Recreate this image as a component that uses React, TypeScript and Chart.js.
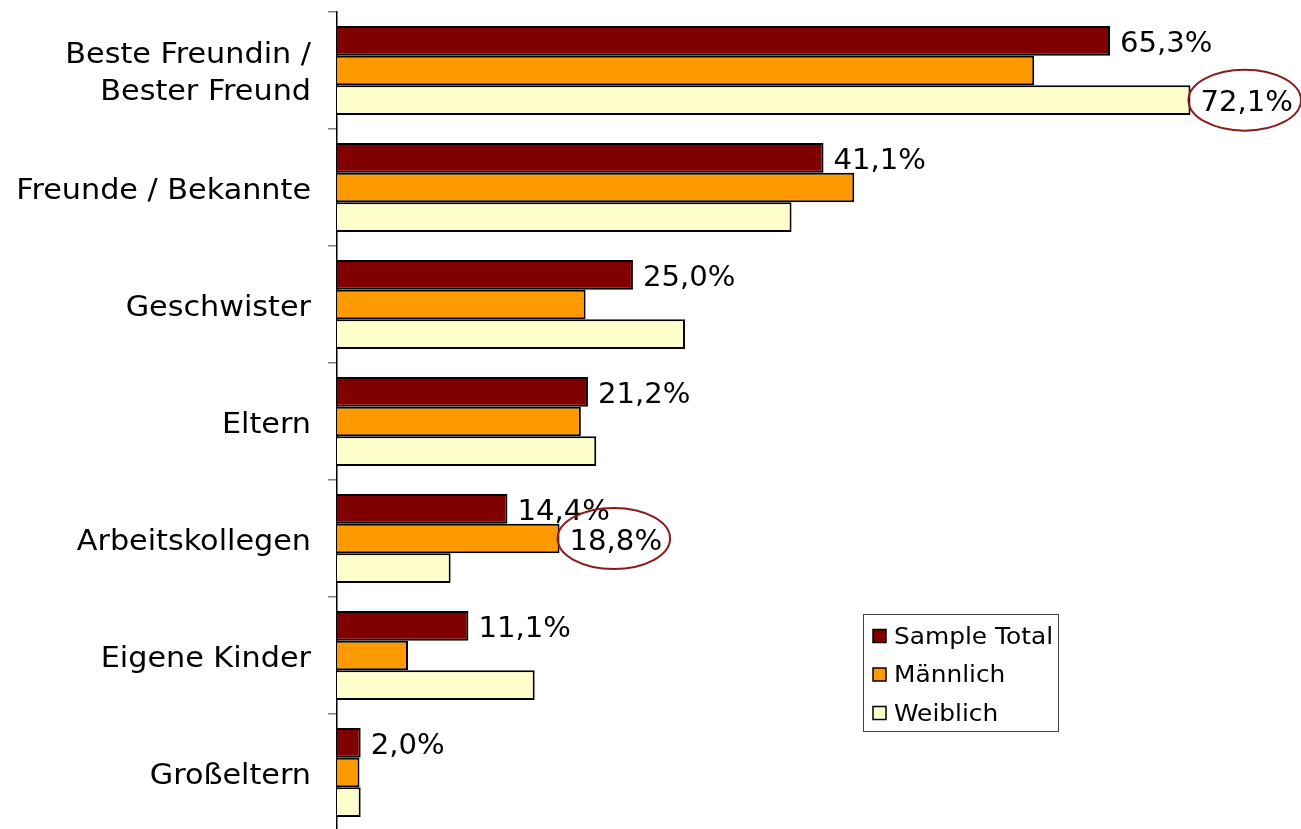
import React, { useEffect, useRef } from "react";
import { Chart, registerables } from "chart.js";

Chart.register(...registerables);

const categories: string[][] = [
  ["Beste Freundin /", "Bester Freund"],
  ["Freunde / Bekannte"],
  ["Geschwister"],
  ["Eltern"],
  ["Arbeitskollegen"],
  ["Eigene Kinder"],
  ["Großeltern"],
];
const seriesNames = ["Sample Total", "Männlich", "Weiblich"];
const sampleTotal = [65.3, 41.1, 25.0, 21.2, 14.4, 11.1, 2.0];
const maennlich = [58.9, 43.7, 21.0, 20.6, 18.8, 6.0, 1.9];
const weiblich = [72.1, 38.4, 29.4, 21.9, 9.6, 16.7, 2.0];
const seriesColors = ["#800000", "#FF9900", "#FFFFCC"];
// labels: [datasetIndex, categoryIndex, circled]
const labelledPoints: [number, number, boolean][] = [
  [0, 0, false],
  [0, 1, false],
  [0, 2, false],
  [0, 3, false],
  [0, 4, false],
  [0, 5, false],
  [0, 6, false],
  [2, 0, true],
  [1, 4, true],
];

const FONT = "'DejaVu Sans', Verdana, sans-serif";
const CAP = 0.729;

const fmt = (v: number) => v.toFixed(1).replace(".", ",") + "%";

// draws text whose cap-height centre sits at y
function wideText(ctx: any, txt: string, x: number, y: number, size: number, sx: number, align: "left" | "right") {
  ctx.save();
  ctx.font = `${size}px ${FONT}`;
  ctx.textBaseline = "alphabetic";
  ctx.textAlign = align;
  ctx.translate(x, y + (CAP * size) / 2);
  ctx.scale(sx, 1);
  ctx.fillText(txt, 0, 0);
  const w = ctx.measureText(txt).width * sx;
  ctx.restore();
  return w;
}

const categoryLabelPlugin = {
  id: "catLabels",
  afterDraw(chart: any) {
    const ctx = chart.ctx;
    const ys = chart.scales.y;
    ctx.save();
    ctx.fillStyle = "#000";
    (chart.data.labels as string[][]).forEach((lines, i) => {
      const cy = ys.getPixelForValue(i);
      const lh = 37;
      lines.forEach((ln, k) => {
        const y = cy + (k - (lines.length - 1) / 2) * lh + 1;
        wideText(ctx, ln, ys.right - 26, y, 28, 1.08, "right");
      });
    });
    ctx.restore();
  },
};

const labelPlugin = {
  id: "valueLabels",
  afterDatasetsDraw(chart: any) {
    const ctx = chart.ctx;
    ctx.save();
    ctx.fillStyle = "#000";
    for (const [di, ci, circled] of labelledPoints) {
      const meta = chart.getDatasetMeta(di);
      const el = meta.data[ci];
      const v = chart.data.datasets[di].data[ci];
      const txt = fmt(v);
      const x = el.x + 10;
      const y = el.y + 1;
      const w = wideText(ctx, txt, x, y, 28, 1.04, "left");
      if (circled) {
        ctx.save();
        ctx.strokeStyle = "#8B1A1A";
        ctx.lineWidth = 2;
        ctx.beginPath();
        ctx.ellipse(x + w / 2 - 2, y - 1, w / 2 + 10, 30.5, 0, 0, Math.PI * 2);
        ctx.stroke();
        ctx.restore();
      }
    }
    ctx.restore();
  },
};

const legendPlugin = {
  id: "boxLegend",
  afterDraw(chart: any) {
    const ctx = chart.ctx;
    ctx.save();
    const bx = 863.5,
      by = 614.5,
      bw = 195,
      bh = 117;
    ctx.fillStyle = "#fff";
    ctx.fillRect(bx, by, bw, bh);
    ctx.strokeStyle = "#444";
    ctx.lineWidth = 1;
    ctx.strokeRect(bx, by, bw, bh);
    chart.data.datasets.forEach((ds: any, i: number) => {
      const cy = 636 + i * 38.5;
      ctx.fillStyle = ds.backgroundColor;
      ctx.fillRect(873, cy - 6.5, 13, 13);
      ctx.strokeStyle = "#000";
      ctx.lineWidth = 1.5;
      ctx.strokeRect(873, cy - 6.5, 13, 13);
      ctx.fillStyle = "#000";
      wideText(ctx, ds.label, 894, cy - 0.5, 23, 1.08, "left");
    });
    ctx.restore();
  },
};

export default function App() {
  const ref = useRef<HTMLCanvasElement>(null);
  useEffect(() => {
    document.body.style.margin = "0";
    const chart = new Chart(ref.current!, {
      type: "bar",
      data: {
        labels: categories as any,
        datasets: [sampleTotal, maennlich, weiblich].map((d, i) => ({
          label: seriesNames[i],
          data: d,
          backgroundColor: seriesColors[i],
          borderColor: "#000",
          borderWidth: 2,
          borderSkipped: "start",
          barPercentage: 1,
          categoryPercentage: 0.76,
        })),
      },
      options: {
        indexAxis: "y",
        responsive: false,
        animation: false,
        layout: { padding: { top: 12, right: 17, bottom: 0, left: 0 } },
        plugins: {
          legend: { display: false },
          tooltip: { enabled: false },
        },
        scales: {
          x: { display: false, min: 0, max: 80 },
          y: {
            afterFit: (s: any) => {
              s.width = 337;
              s.paddingTop = 0;
              s.paddingBottom = 0;
            },
            border: { display: true, color: "#000", width: 1.5 },
            grid: {
              drawOnChartArea: false,
              drawTicks: true,
              tickLength: 9,
              color: "#808080",
              lineWidth: 1.5,
              offset: true,
            },
            ticks: {
              display: false,
              autoSkip: false,
            },
          },
        },
      },
      plugins: [labelPlugin, categoryLabelPlugin, legendPlugin],
    });
    return () => chart.destroy();
  }, []);
  return (
    <div style={{ position: "fixed", left: 0, top: 0, width: 1301, height: 829, overflow: "hidden", background: "#fff" }}>
      <canvas ref={ref} width={1301} height={831} />
    </div>
  );
}
